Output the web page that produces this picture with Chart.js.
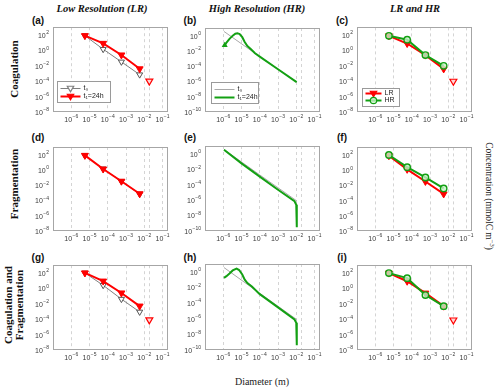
<!DOCTYPE html>
<html>
<head>
<meta charset="utf-8">
<script src="https://cdn.jsdelivr.net/npm/chart.js@4.4.0/dist/chart.umd.min.js"></script>
<style>
  body { margin: 0; background: #fff; }
  #wrap { position: relative; width: 500px; height: 390px; overflow: hidden; }
  #wrap canvas { position: absolute; }
  .lbl { position: absolute; white-space: nowrap; transform: translate(-50%, -50%); color: #111; }
  .title { font: italic bold 10.5px "Liberation Serif", "Times New Roman", serif; }
  .row { font: bold 11px "Liberation Serif", "Times New Roman", serif; text-align: center; line-height: 11px; }
  .letter { font: bold 10px "Liberation Sans", Arial, sans-serif; }
  .axis { font: 10px "Liberation Serif", "Times New Roman", serif; color: #222; }
</style>
</head>
<body>
<div id="wrap">
  <div class="lbl title" style="left:102px; top:8px;">Low Resolution (LR)</div>
  <div class="lbl title" style="left:257px; top:8px;">High Resolution (HR)</div>
  <div class="lbl title" style="left:415px; top:8px;">LR and HR</div>

  <div class="lbl letter" style="left:38px; top:20px;">(a)</div>
  <div class="lbl letter" style="left:190px; top:20px;">(b)</div>
  <div class="lbl letter" style="left:342px; top:20px;">(c)</div>
  <div class="lbl letter" style="left:38px; top:137px;">(d)</div>
  <div class="lbl letter" style="left:190px; top:137px;">(e)</div>
  <div class="lbl letter" style="left:342px; top:137px;">(f)</div>
  <div class="lbl letter" style="left:38px; top:257px;">(g)</div>
  <div class="lbl letter" style="left:190px; top:257px;">(h)</div>
  <div class="lbl letter" style="left:342px; top:257px;">(i)</div>

  <div class="lbl row" style="left:14px; top:69px; transform: translate(-50%,-50%) rotate(-90deg);">Coagulation</div>
  <div class="lbl row" style="left:14px; top:184px; transform: translate(-50%,-50%) rotate(-90deg);">Fragmentation</div>
  <div class="lbl row" style="left:14px; top:305px; transform: translate(-50%,-50%) rotate(-90deg);">Coagulation and<br>Fragmentation</div>

  <div class="lbl axis" style="left:490px; top:196px; font-size:9.5px; transform: translate(-50%,-50%) rotate(90deg);">Concentration (mmolC m<sup style="font-size:6.5px">−3</sup>)</div>
  <div class="lbl axis" style="left:262px; top:381px;">Diameter (m)</div>
</div>
<script>
'use strict';

// ---- data ----
const xTickVals = [1e-6, 1e-5, 1e-4, 1e-3, 1e-2, 2e-2, 1e-1];
const lrYTicks = [1e2, 1, 1e-2, 1e-4, 1e-6, 1e-8];
const hrYTicks = [1, 1e-2, 1e-4, 1e-6, 1e-8, 1e-10];

// low resolution bins
const lrDiam = [5.6e-6, 5.6e-5, 5.6e-4, 5.6e-3];
const lrTailDiam = [1.9e-2];

const coagLR_t0 = [80, 1.4, 0.032, 7e-4];
const coagLR_t1 = [80, 8, 0.25, 4e-3];
const coagLR_tail = [1e-4];

const fragLR_t0 = [80, 1.4, 0.032, 7e-4];
const fragLR_t1 = [80, 1.3, 0.033, 7.5e-4];

const bothLR_t0 = [100, 2.5, 0.04, 8.7e-4];
const bothLR_t1 = [100, 8.7, 0.25, 5e-3];
const bothLR_tail = [8e-5];

// high resolution, sampled on the LR bin centres
const coagHRonLR = [80, 25, 0.25, 0.01];
const fragHRonLR = [100, 2.5, 0.11, 4e-3];
const bothHRonLR = [100, 22, 0.14, 5e-3];

// high resolution spectra
const hrT0Diam = [1.1e-6, 1e-4, 1.05e-2];
const hrT0 = [3.5, 1.8e-3, 8e-7];

const coagHRDiam = [1.2e-6, 1.5e-6, 2.2e-6, 3.3e-6, 4.6e-6, 6e-6, 7.9e-6, 1.1e-5, 1.5e-5, 2.1e-5, 3.2e-5, 5.5e-5, 1e-4, 1e-3, 1.05e-2];
const coagHR_t1 = [0.056, 0.12, 0.38, 1, 1.8, 2.1, 1.6, 0.63, 0.15, 0.043, 0.018, 5e-3, 1.8e-3, 4e-5, 8e-7];

const fragHRDiam = [1.1e-6, 1e-5, 1e-4, 1e-3, 8e-3, 1e-2, 1.07e-2];
const fragHR_t1 = [3.2, 0.056, 1.1e-3, 2.2e-5, 7e-7, 2.5e-7, 3e-10];

const bothHRDiam = [1.1e-6, 1.5e-6, 2.2e-6, 3.3e-6, 5.4e-6, 7.4e-6, 1.1e-5, 1.5e-5, 2.1e-5, 3.7e-5, 1e-4, 1e-3, 8e-3, 1e-2, 1.07e-2];
const bothHR_t1 = [0.17, 0.28, 0.6, 1.5, 2.5, 1.7, 0.45, 0.1, 0.037, 0.013, 1.4e-3, 2.8e-5, 8e-7, 3e-7, 4e-10];

// ---- styling ----
const RED = '#ff0000';
const GREEN = '#13a013';
const GRAY = '#7f7f7f';
const LGRAY = '#a8a8a8';
const LABEL_FONT = '"Liberation Sans", Arial, sans-serif';

function pts(xs, ys) {
    return xs.map((x, i) => ({ x: x, y: ys[i] }));
}

function expOf(v) {
    const l = Math.log10(v);
    const e = Math.round(l);
    return Math.abs(l - e) > 1e-6 ? null : e;
}

function drawMarker(ctx, kind, x, y, r) {
    ctx.beginPath();
    if (kind === 'tri') {
        ctx.moveTo(x - r, y - r * 0.7);
        ctx.lineTo(x + r, y - r * 0.7);
        ctx.lineTo(x, y + r);
        ctx.closePath();
    } else {
        ctx.arc(x, y, r, 0, Math.PI * 2);
    }
    ctx.fill();
    ctx.stroke();
}

// 10 with a raised exponent, drawn as text
function drawPow(ctx, e, x, y, align) {
    const base = '10', ex = String(e).replace('-', '−');
    ctx.font = '7px ' + LABEL_FONT;
    const wb = ctx.measureText(base).width;
    ctx.font = '5px ' + LABEL_FONT;
    const we = ctx.measureText(ex).width;
    const w = wb + we + 0.5;
    const x0 = align === 'right' ? x - w : x - w / 2;
    ctx.textBaseline = 'middle';
    ctx.textAlign = 'left';
    ctx.font = '7px ' + LABEL_FONT;
    ctx.fillText(base, x0, y + 1);
    ctx.font = '5px ' + LABEL_FONT;
    ctx.fillText(ex, x0 + wb + 0.5, y - 2);
}

const tickText = {
    id: 'tickText',
    afterDraw(chart) {
        const ctx = chart.ctx;
        const a = chart.chartArea;
        const xs = chart.scales.x, ys = chart.scales.y;
        ctx.save();
        ctx.fillStyle = '#3a3a3a';
        xTickVals.forEach(v => {
            const e = expOf(v);
            if (e === null) return;
            drawPow(ctx, e, xs.getPixelForValue(v), a.bottom + 7, 'center');
        });
        ys.ticks.forEach(t => {
            const e = expOf(t.value);
            if (e === null) return;
            drawPow(ctx, e, a.left - 4, ys.getPixelForValue(t.value), 'right');
        });
        ctx.restore();
    }
};

const framePlugin = {
    id: 'frame',
    beforeDatasetsDraw(chart) {
        const a = chart.chartArea;
        const ctx = chart.ctx;
        ctx.save();
        ctx.strokeStyle = '#a6a6a6';
        ctx.lineWidth = 1;
        ctx.strokeRect(Math.round(a.left) + 0.5, Math.round(a.top) + 0.5,
            Math.round(a.right - a.left) - 1, Math.round(a.bottom - a.top) - 1);
        ctx.restore();
    }
};

const boxLegend = {
    id: 'boxLegend',
    afterDraw(chart, args, opts) {
        if (!opts.items) return;
        const ctx = chart.ctx;
        const a = chart.chartArea;
        const x0 = Math.round(a.left + opts.dx) + 0.5;
        const y0 = Math.round(a.bottom - opts.dy - opts.h) + 0.5;
        ctx.save();
        ctx.fillStyle = '#fff';
        ctx.fillRect(x0, y0, opts.w, opts.h);
        ctx.strokeStyle = '#9a9a9a';
        ctx.lineWidth = 1;
        ctx.strokeRect(x0, y0, opts.w, opts.h);
        opts.items.forEach((it, i) => {
            const y = y0 + opts.rows[i];
            ctx.strokeStyle = it.color;
            ctx.lineWidth = it.width;
            ctx.beginPath();
            ctx.moveTo(x0 + 3, y);
            ctx.lineTo(x0 + 3 + opts.len, y);
            ctx.stroke();
            if (it.marker) {
                ctx.fillStyle = it.fill;
                ctx.lineWidth = 1.2;
                drawMarker(ctx, it.marker, x0 + 3 + opts.len / 2, y, 3.2);
            }
            ctx.fillStyle = '#222';
            ctx.font = '7px ' + LABEL_FONT;
            ctx.textBaseline = 'middle';
            ctx.fillText(it.label, x0 + opts.len + 6, y);
        });
        ctx.restore();
    }
};

// ---- dataset builders ----
function lrT0Set(ys) {
    return { data: pts(lrDiam, ys), showLine: true, borderColor: GRAY, borderWidth: 1,
        pointStyle: 'triangle', rotation: 180, pointRadius: 3.5, pointBorderWidth: 1,
        pointBackgroundColor: '#fff', pointBorderColor: '#555' };
}
function lrT1Set(ys) {
    return { data: pts(lrDiam, ys), showLine: true, borderColor: RED, borderWidth: 2,
        pointStyle: 'triangle', rotation: 180, pointRadius: 4, pointBorderWidth: 1,
        pointBackgroundColor: RED, pointBorderColor: RED };
}
function tailSet(ys) {
    return { data: pts(lrTailDiam, ys), showLine: false,
        pointStyle: 'triangle', rotation: 180, pointRadius: 4, pointBorderWidth: 1.2,
        pointBackgroundColor: '#ffd6d6', pointBorderColor: RED };
}
function hrOnLrSet(ys) {
    return { data: pts(lrDiam, ys), showLine: true, borderColor: GREEN, borderWidth: 2,
        pointStyle: 'circle', pointRadius: 3.2, pointBorderWidth: 1.4,
        pointBackgroundColor: 'rgba(200,240,200,0.8)', pointBorderColor: GREEN };
}
function hrLineSet(xs, ys, color, width, firstMark) {
    return { data: pts(xs, ys), showLine: true, borderColor: color, borderWidth: width,
        pointRadius: xs.map((x, i) => (firstMark && i === 0 ? 1.5 : 0)),
        pointStyle: 'triangle', pointBackgroundColor: color, pointBorderColor: color };
}

const legT = {
    dx: 4, dy: 10, w: 53, h: 21, len: 20, rows: [7, 15],
    items: [
        { label: 't₀', color: GRAY, width: 1, marker: 'tri', fill: '#fff' },
        { label: 't₁=24h', color: RED, width: 2, marker: 'tri', fill: RED }
    ]
};
const legTHR = {
    dx: 6, dy: 9, w: 47, h: 21, len: 20, rows: [7, 15],
    items: [
        { label: 't₀', color: LGRAY, width: 1 },
        { label: 't₁=24h', color: GREEN, width: 2 }
    ]
};
const legLRHR = {
    dx: 5, dy: 6, w: 37, h: 18, len: 16, rows: [5, 12],
    items: [
        { label: 'LR', color: RED, width: 2, marker: 'tri', fill: RED },
        { label: 'HR', color: GREEN, width: 2, marker: 'circle', fill: 'rgba(200,240,200,0.8)' }
    ]
};

const cols = [[53, 168], [205, 320], [357, 472]];
const rows = [[26, 112], [146, 231], [264, 350]];

function makePanel(col, row, hr, datasets, legend) {
    const L = cols[col][0], R = cols[col][1];
    const T = rows[row][0], B = rows[row][1];
    const yw = 30, xh = 20, padT = 4, padR = 14;
    const canvas = document.createElement('canvas');
    canvas.width = (R - L) + yw + padR;
    canvas.height = (B - T) + padT + xh;
    canvas.style.left = (L - yw) + 'px';
    canvas.style.top = (T - padT) + 'px';
    document.getElementById('wrap').appendChild(canvas);

    const yTicks = hr ? hrYTicks : lrYTicks;

    new Chart(canvas, {
        type: 'scatter',
        data: { datasets: datasets },
        options: {
            responsive: false,
            animation: false,
            layout: { padding: { top: padT, right: padR, left: 0, bottom: 0 } },
            plugins: {
                legend: { display: false },
                tooltip: { enabled: false },
                boxLegend: legend || {}
            },
            elements: { line: { tension: 0 } },
            scales: {
                x: {
                    type: 'logarithmic',
                    min: 1e-7, max: 0.2,
                    afterBuildTicks: s => { s.ticks = xTickVals.map(v => ({ value: v })); },
                    afterFit: s => { s.height = xh; s.paddingLeft = 0; s.paddingRight = 0; },
                    ticks: { display: false },
                    grid: { color: '#d4d4d4', lineWidth: 1, drawTicks: false },
                    border: { display: false, dash: [3, 3] }
                },
                y: {
                    type: 'logarithmic',
                    min: hr ? 1e-10 : 1e-8, max: hr ? 10 : 1e3,
                    afterBuildTicks: s => { s.ticks = yTicks.map(v => ({ value: v })); },
                    afterFit: s => { s.width = yw; s.paddingTop = 0; s.paddingBottom = 0; },
                    ticks: { display: false },
                    grid: { display: false, drawTicks: false },
                    border: { display: false }
                }
            }
        },
        plugins: [framePlugin, boxLegend, tickText]
    });
}

// row 1: coagulation
makePanel(0, 0, false, [lrT1Set(coagLR_t1), tailSet(coagLR_tail), lrT0Set(coagLR_t0)], legT);
makePanel(1, 0, true, [hrLineSet(coagHRDiam, coagHR_t1, GREEN, 2, true), hrLineSet(hrT0Diam, hrT0, LGRAY, 1, false)], legTHR);
makePanel(2, 0, false, [hrOnLrSet(coagHRonLR), lrT1Set(coagLR_t1), tailSet(coagLR_tail)], legLRHR);

// row 2: fragmentation
makePanel(0, 1, false, [lrT1Set(fragLR_t1), lrT0Set(fragLR_t0)]);
makePanel(1, 1, true, [hrLineSet(fragHRDiam, fragHR_t1, GREEN, 2, false), hrLineSet(hrT0Diam, hrT0, LGRAY, 1, false)]);
makePanel(2, 1, false, [hrOnLrSet(fragHRonLR), lrT1Set(fragLR_t1)]);

// row 3: both
makePanel(0, 2, false, [lrT1Set(bothLR_t1), tailSet(bothLR_tail), lrT0Set(bothLR_t0)]);
makePanel(1, 2, true, [hrLineSet(bothHRDiam, bothHR_t1, GREEN, 2, false), hrLineSet(hrT0Diam, hrT0, LGRAY, 1, false)]);
makePanel(2, 2, false, [hrOnLrSet(bothHRonLR), lrT1Set(bothLR_t1), tailSet(bothLR_tail)]);
</script>
</body>
</html>
